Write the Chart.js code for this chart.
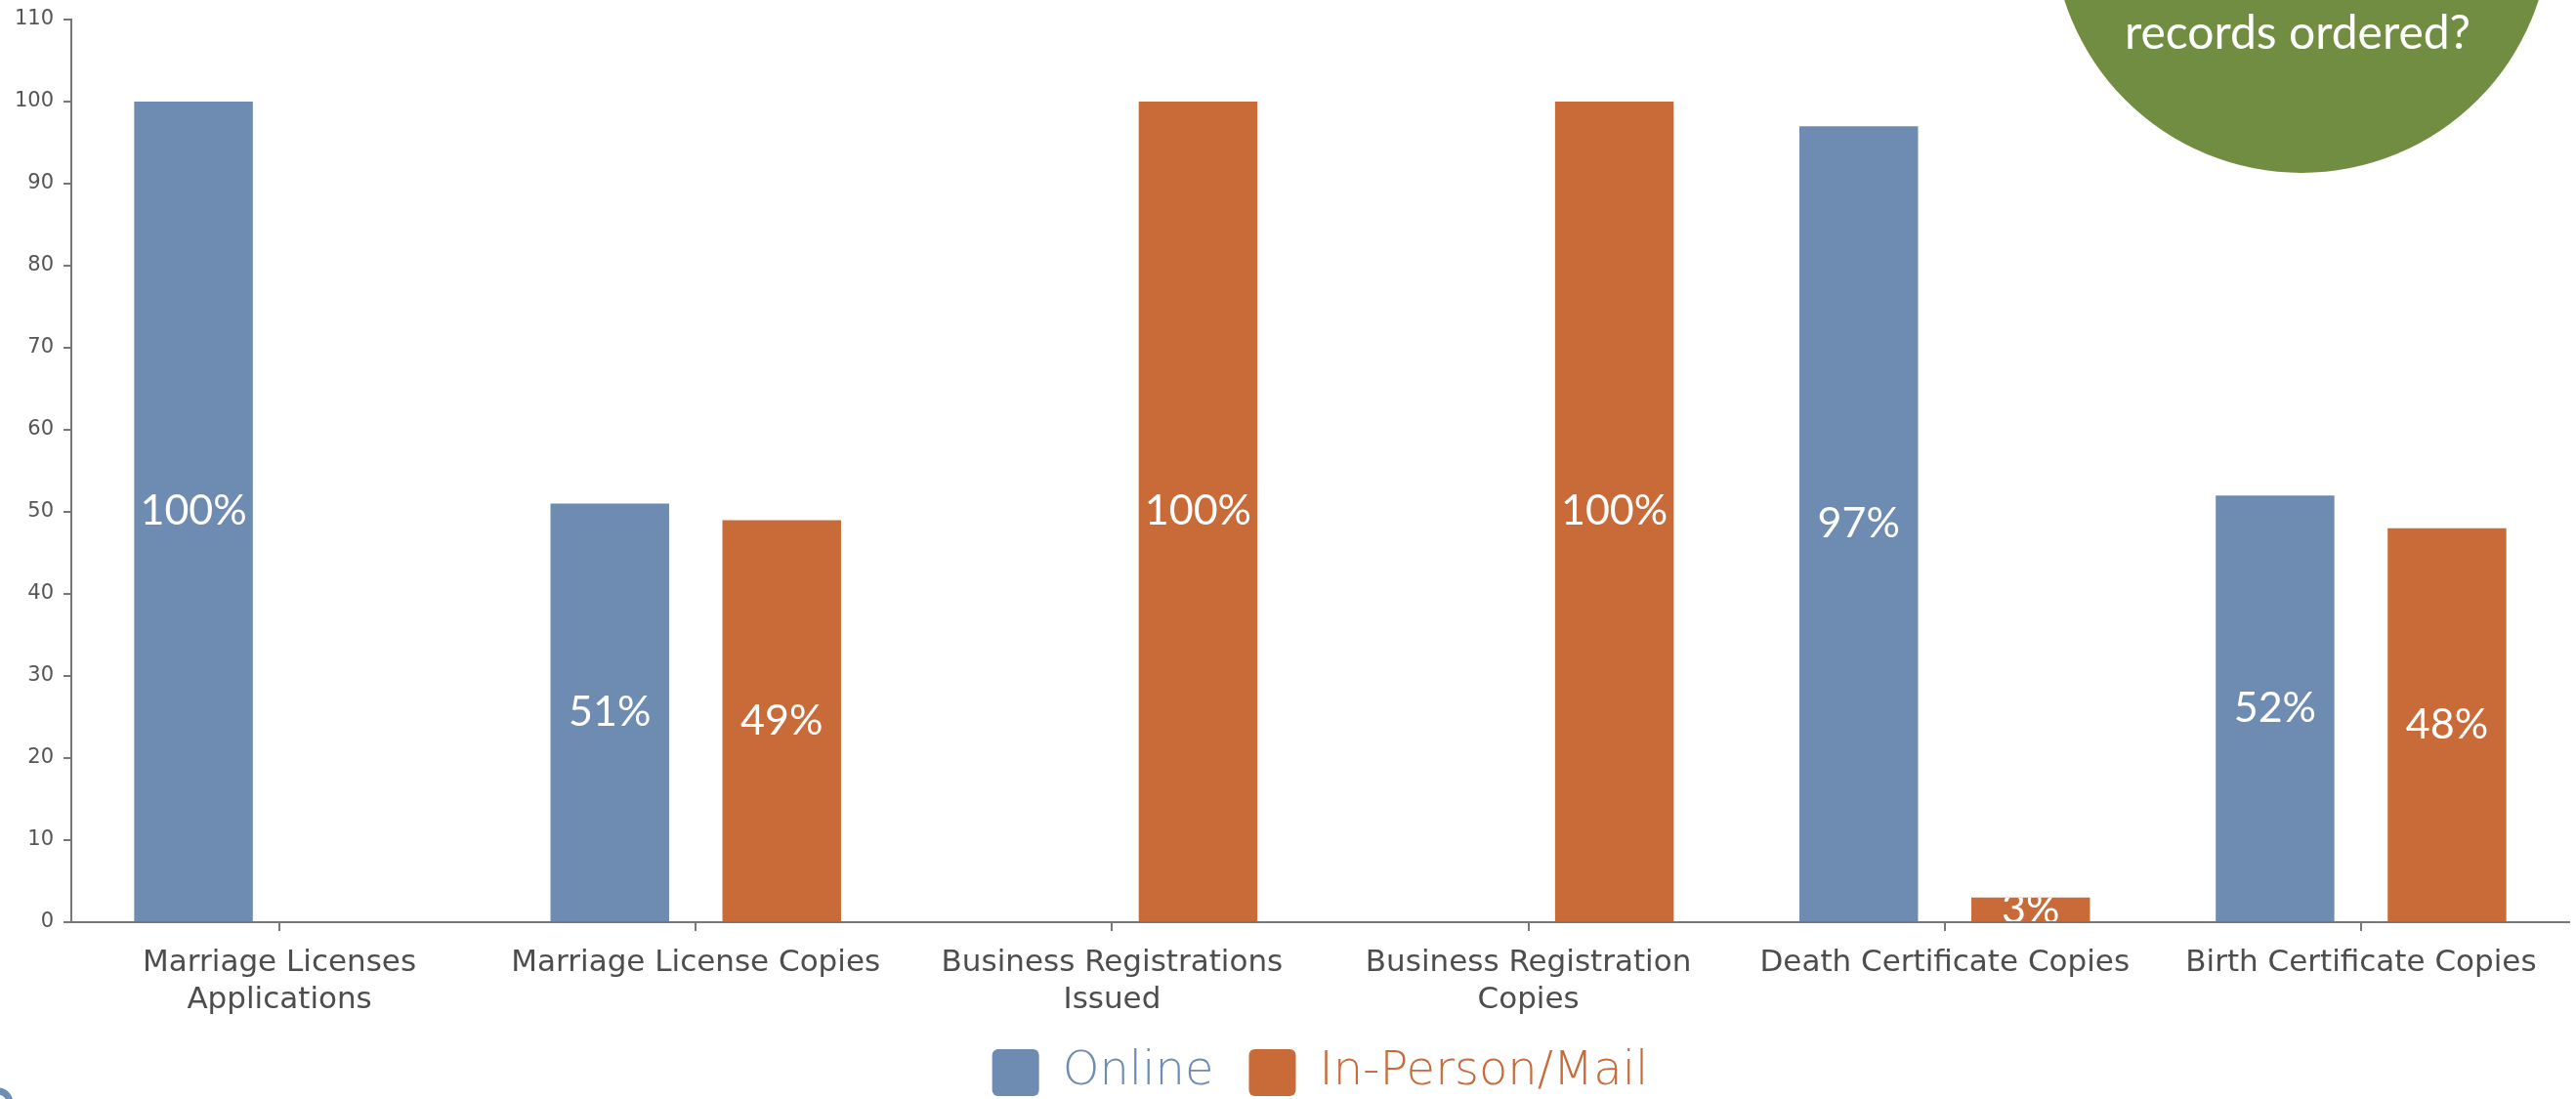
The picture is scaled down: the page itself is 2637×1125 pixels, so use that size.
<!DOCTYPE html>
<html>
<head>
<meta charset="utf-8">
<script src="https://cdn.jsdelivr.net/npm/chart.js@4/dist/chart.umd.min.js"></script>
<style>
  html, body { margin: 0; padding: 0; background: #fff; }
  #wrap { width: 2637px; height: 1125px; position: relative; }
</style>
</head>
<body>
<div id="wrap"><canvas id="methodBar"></canvas></div>
<script>
// Data ================================
const categories = [
  ['Marriage Licenses', 'Applications'],
  'Marriage License Copies',
  ['Business Registrations', 'Issued'],
  ['Business Registration', 'Copies'],
  'Death Certificate Copies',
  'Birth Certificate Copies'
];
const onlineValues = [100, 51, 0, 0, 97, 52];
const inPersonValues = [0, 49, 100, 100, 3, 48];
const yTicks = [0, 10, 20, 30, 40, 50, 60, 70, 80, 90, 100, 110];

const blue = '#6e8bb2';
const orange = '#c96a39';
const axisFont = "'DejaVu Sans', Inter, sans-serif";

// Labels inside the bars (no datalabels plugin offline)
const barLabels = {
  id: 'barLabels',
  afterDatasetsDraw(chart) {
    const ctx = chart.ctx;
    chart.data.datasets.forEach((ds, i) => {
      const meta = chart.getDatasetMeta(i);
      meta.data.forEach((bar, j) => {
        const v = ds.data[j];
        if (!v) return;
        const top = bar.y, base = bar.base, w = bar.width;
        ctx.save();
        ctx.beginPath();
        ctx.rect(bar.x - w / 2, top, w, base - top);
        ctx.clip();
        ctx.fillStyle = '#fff';
        ctx.font = '43px Lato';
        ctx.textAlign = 'center';
        ctx.textBaseline = 'middle';
        ctx.fillText(v + '%', bar.x, (top + base) / 2);
        ctx.restore();
      });
    });
  }
};

// Green bubble top right + stray blue mark bottom left
const decorations = {
  id: 'decorations',
  afterDraw(chart) {
    const ctx = chart.ctx;
    ctx.save();
    ctx.fillStyle = '#718d41';
    ctx.beginPath();
    ctx.arc(2356, -78, 255, 0, Math.PI * 2);
    ctx.fill();
    ctx.fillStyle = '#fff';
    ctx.font = '48px Lato';
    ctx.textAlign = 'center';
    ctx.textBaseline = 'alphabetic';
    ctx.fillText('records ordered?', 2352, 50);

    ctx.strokeStyle = '#6f8db5';
    ctx.lineWidth = 7;
    ctx.beginPath();
    ctx.arc(-2, 1129, 12, 0, Math.PI * 2);
    ctx.stroke();
    ctx.restore();
  }
};

const dataMethod = {
  labels: categories,
  datasets: [
    { label: 'Online', data: onlineValues, backgroundColor: blue },
    { label: 'In-Person/Mail', data: inPersonValues, backgroundColor: orange }
  ]
};

const configMethod = {
  type: 'bar',
  data: dataMethod,
  plugins: [barLabels, decorations],
  options: {
    responsive: true,
    maintainAspectRatio: false,
    animation: false,
    layout: { padding: { top: 20, right: 7, bottom: -7, left: 0 } },
    datasets: { bar: { categoryPercentage: 0.826, barPercentage: 0.69 } },
    scales: {
      x: {
        grid: { display: true, drawOnChartArea: false, offset: false, tickLength: 9, color: '#777', lineWidth: 2 },
        border: { color: '#777', width: 2 },
        ticks: { color: '#4d4d4d', padding: 14, maxRotation: 0, autoSkip: false,
                 font: { family: axisFont, size: 31, lineHeight: 1.22 } },
        afterFit(scale) { scale.height = 94; }
      },
      y: {
        min: 0,
        max: 110,
        afterBuildTicks(scale) { scale.ticks = yTicks.map(v => ({ value: v })); },
        grid: { display: true, drawOnChartArea: false, tickLength: 8, color: '#777', lineWidth: 2 },
        border: { color: '#777', width: 2 },
        ticks: { color: '#555', padding: 10, font: { family: axisFont, size: 21, lineHeight: 0.6 } },
        afterFit(scale) { scale.width = 73; }
      }
    },
    plugins: {
      tooltip: { enabled: false },
      legend: {
        position: 'bottom',
        fullSize: false,
        labels: {
          boxWidth: 48,
          boxHeight: 48,
          padding: 36,
          useBorderRadius: true,
          borderRadius: 6,
          font: { family: axisFont, size: 48, weight: '200' },
          generateLabels(chart) {
            const items = Chart.defaults.plugins.legend.labels.generateLabels(chart);
            items.forEach(it => {
              it.fontColor = it.fillStyle;
              it.lineWidth = 0;
              it.strokeStyle = 'rgba(0,0,0,0)';
            });
            return items;
          }
        }
      }
    }
  }
};

const methodBar = new Chart(
  document.getElementById('methodBar'),
  configMethod
);
</script>
</body>
</html>
